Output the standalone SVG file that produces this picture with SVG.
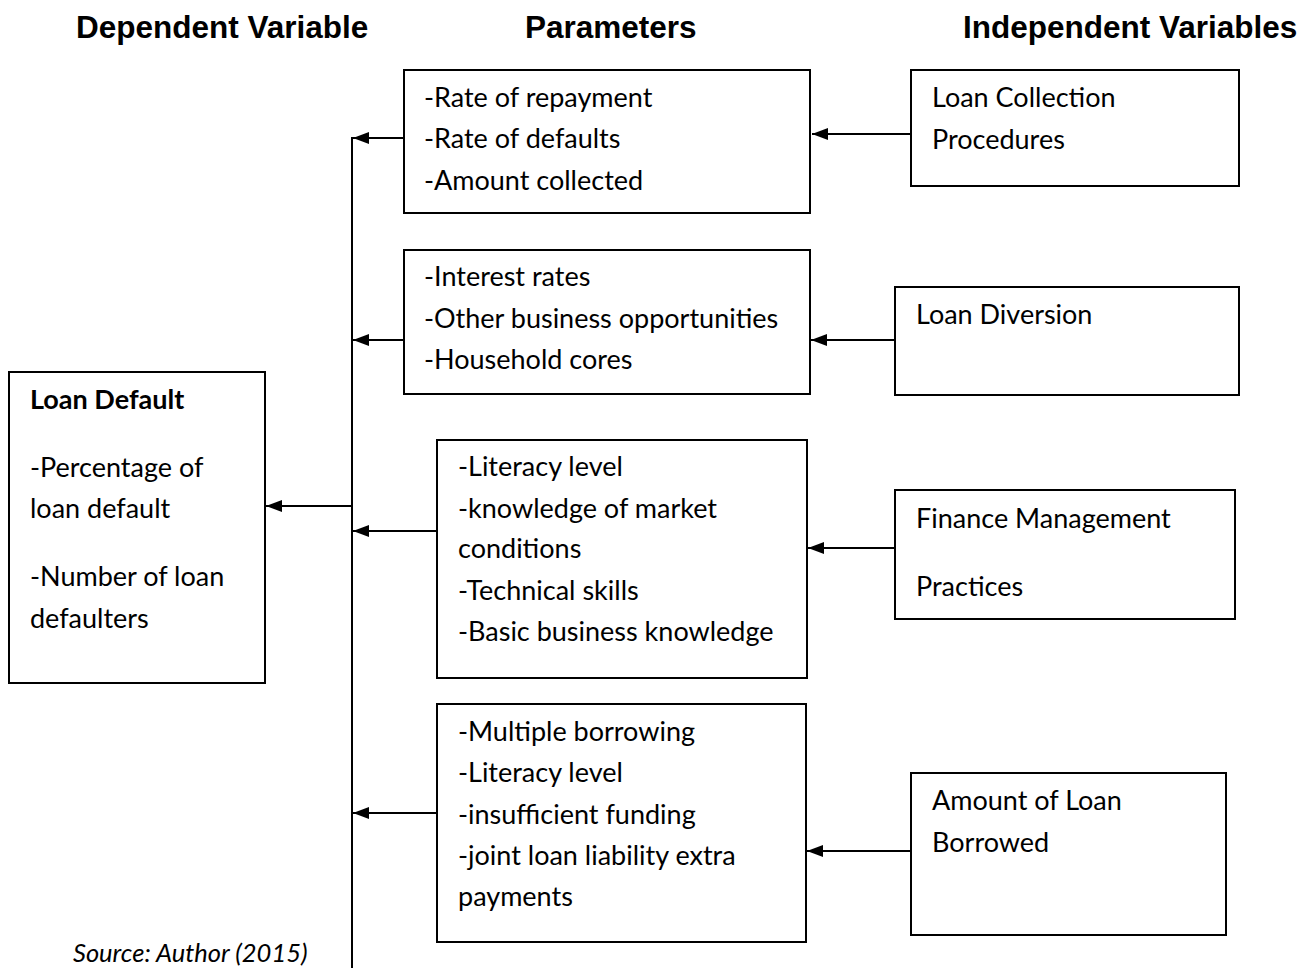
<svg xmlns="http://www.w3.org/2000/svg" width="1315" height="968" viewBox="0 0 1315 968">
<style>
.box{fill:#fff;stroke:#000;stroke-width:2}
.t{font-family:Lato,"Open Sans","Liberation Sans",sans-serif;font-size:27px;fill:#000}
.h{font-family:"Liberation Sans",Arial,sans-serif;font-size:31.5px;font-weight:bold;fill:#000}
.ln{stroke:#000;stroke-width:2;fill:none}
.src{font-family:Lato,"Open Sans","Liberation Sans",sans-serif;font-size:25.5px;font-style:italic;fill:#000}
</style>
<defs>
<marker id="ah" markerWidth="16" markerHeight="12" refX="16" refY="6" orient="auto" markerUnits="userSpaceOnUse">
<path d="M0,0 L16,6 L0,12 Z" fill="#000"/>
</marker>
</defs>
<rect width="1315" height="968" fill="#fff"/>
<g id="headers">
<text class="h" x="76" y="38">Dependent Variable</text>
<text class="h" x="525" y="38">Parameters</text>
<text class="h" x="963" y="38">Independent Variables</text>
</g>
<g id="connectors">
<line class="ln" x1="352" y1="137" x2="352" y2="968"/>
<line class="ln" x1="404" y1="138" x2="353" y2="138" marker-end="url(#ah)"/>
<line class="ln" x1="404" y1="340" x2="353" y2="340" marker-end="url(#ah)"/>
<line class="ln" x1="437" y1="531" x2="353" y2="531" marker-end="url(#ah)"/>
<line class="ln" x1="437" y1="813" x2="353" y2="813" marker-end="url(#ah)"/>
<line class="ln" x1="352" y1="506" x2="266" y2="506" marker-end="url(#ah)"/>
<line class="ln" x1="911" y1="134" x2="812" y2="134" marker-end="url(#ah)"/>
<line class="ln" x1="895" y1="340" x2="811" y2="340" marker-end="url(#ah)"/>
<line class="ln" x1="895" y1="548" x2="808" y2="548" marker-end="url(#ah)"/>
<line class="ln" x1="911" y1="851" x2="807" y2="851" marker-end="url(#ah)"/>
</g>
<g id="p1">
<rect class="box" x="404" y="70" width="406" height="143"/>
<text class="t" x="424" y="107">-Rate of repayment</text>
<text class="t" x="424" y="148">-Rate of defaults</text>
<text class="t" x="424" y="190">-Amount collected</text>
</g>
<g id="i1">
<rect class="box" x="911" y="70" width="328" height="116"/>
<text class="t" x="932" y="107">Loan Collection</text>
<text class="t" x="932" y="149">Procedures</text>
</g>
<g id="p2">
<rect class="box" x="404" y="250" width="406" height="144"/>
<text class="t" x="424" y="286">-Interest rates</text>
<text class="t" x="424" y="328">-Other business opportunities</text>
<text class="t" x="424" y="369">-Household cores</text>
</g>
<g id="i2">
<rect class="box" x="895" y="287" width="344" height="108"/>
<text class="t" x="916" y="324">Loan Diversion</text>
</g>
<g id="ld">
<rect class="box" x="9" y="372" width="256" height="311"/>
<text class="t" x="30" y="409" font-weight="bold">Loan Default</text>
<text class="t" x="30" y="477">-Percentage of</text>
<text class="t" x="30" y="518">loan default</text>
<text class="t" x="30" y="586">-Number of loan</text>
<text class="t" x="30" y="628">defaulters</text>
</g>
<g id="p3">
<rect class="box" x="437" y="440" width="370" height="238"/>
<text class="t" x="458" y="476">-Literacy level</text>
<text class="t" x="458" y="518">-knowledge of market</text>
<text class="t" x="458" y="558">conditions</text>
<text class="t" x="458" y="600">-Technical skills</text>
<text class="t" x="458" y="641">-Basic business knowledge</text>
</g>
<g id="i3">
<rect class="box" x="895" y="490" width="340" height="129"/>
<text class="t" x="916" y="528">Finance Management</text>
<text class="t" x="916" y="596">Practices</text>
</g>
<g id="p4">
<rect class="box" x="437" y="704" width="369" height="238"/>
<text class="t" x="458" y="741">-Multiple borrowing</text>
<text class="t" x="458" y="782">-Literacy level</text>
<text class="t" x="458" y="824">-insufficient funding</text>
<text class="t" x="458" y="865">-joint loan liability extra</text>
<text class="t" x="458" y="906">payments</text>
</g>
<g id="i4">
<rect class="box" x="911" y="773" width="315" height="162"/>
<text class="t" x="932" y="810">Amount of Loan</text>
<text class="t" x="932" y="852">Borrowed</text>
</g>
<text class="src" x="73" y="962">Source: Author (2015)</text>
</svg>
